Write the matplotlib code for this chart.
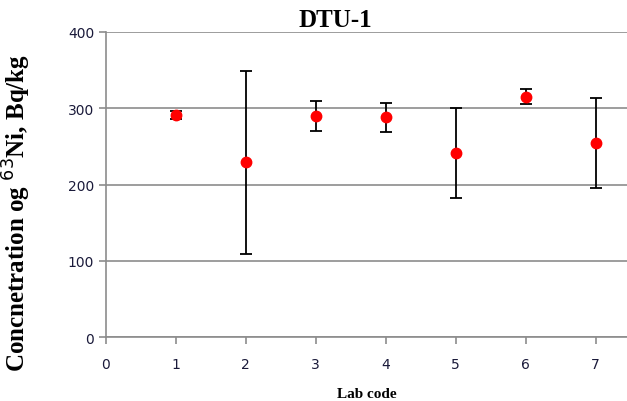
import matplotlib
matplotlib.use('Agg')
import matplotlib.pyplot as plt

# Data
lab_codes = [1, 2, 3, 4, 5, 6, 7]
concentration = [291, 229, 290, 288, 241, 315, 255]
uncertainty = [5, 120, 20, 19, 59, 10, 59]

fig = plt.figure(figsize=(6.27, 4.02), dpi=100)
ax = fig.add_axes([0.169, 0.159, 0.831, 0.759])

ax.errorbar(lab_codes, concentration, yerr=uncertainty, fmt='o', color='red',
            markersize=7.5, ecolor='black', elinewidth=1.3, capsize=4.5,
            capthick=1.3, zorder=3)

ax.set_xlim(0, 7.45)
ax.set_ylim(0, 400)
ax.set_xticks(range(0, 8))
ax.set_yticks([0, 100, 200, 300, 400])
ax.yaxis.grid(True, color='#8c8c8c', linewidth=1.2)
ax.set_axisbelow(True)

for s in ['top', 'right']:
    ax.spines[s].set_visible(False)
for s in ['left', 'bottom']:
    ax.spines[s].set_color('#8c8c8c')
    ax.spines[s].set_linewidth(1.2)
ax.tick_params(colors='#8c8c8c', length=5, width=1.2, labelcolor='#1a1a3a',
               labelsize=10)
ax.tick_params(axis='x', pad=9)
for lbl in ax.get_xticklabels() + ax.get_yticklabels():
    lbl.set_family('DejaVu Sans')

ax.set_title('DTU-1', fontfamily='Liberation Serif', fontweight='bold',
             fontsize=18, pad=4, x=0.441)
ax.set_ylabel('Concnetration og $^{63}$Ni, Bq/kg', fontfamily='Liberation Serif',
              fontweight='bold', fontsize=18)
ax.yaxis.set_label_coords(-0.14, 0.41)
ax.set_xlabel('Lab code', fontfamily='Liberation Serif', fontweight='bold',
              fontsize=11, labelpad=12)

fig.savefig('out.png', dpi=100)
